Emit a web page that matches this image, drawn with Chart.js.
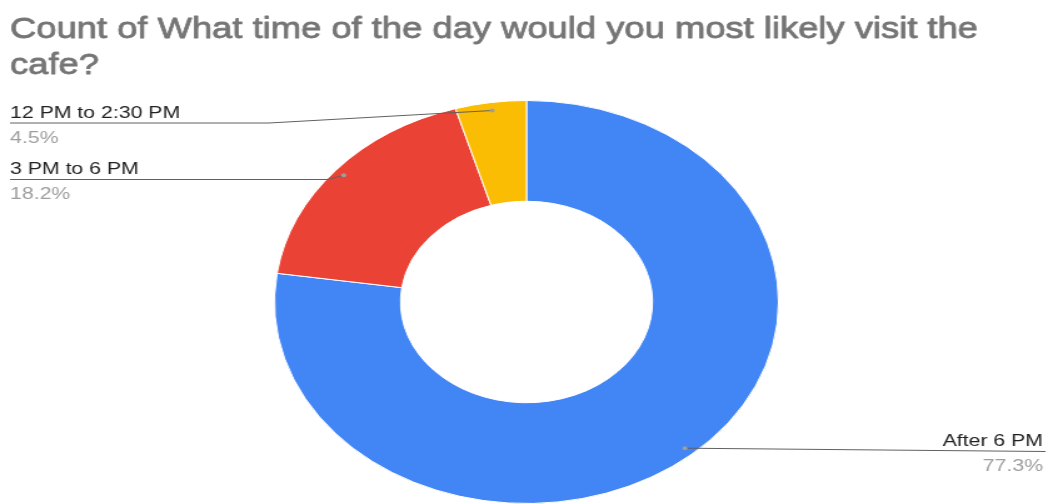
<!DOCTYPE html>
<html><head><meta charset="utf-8">
<script src="https://cdn.jsdelivr.net/npm/chart.js@4"></script>
<style>
html,body{margin:0;padding:0;background:#fff;overflow:hidden}
#wrap{width:838px;height:504px;transform:scaleX(1.2506);transform-origin:0 0;}
canvas{display:block}
</style></head><body>
<div id="wrap"><canvas id="c" width="838" height="504"></canvas></div>
<script>
const titleLines = ["Count of What time of the day would you most likely visit the", "cafe?"];
const categories = ["After 6 PM", "3 PM to 6 PM", "12 PM to 2:30 PM"];
const counts = [17, 4, 1];
const colors = ["#4285F4", "#EA4335", "#FBBC04"];

const total = counts.reduce((a, b) => a + b, 0);
const percentText = counts.map(v => (v / total * 100).toFixed(1) + "%");

// label placement (text layout only)
const labelLayout = [
  { align: "right", textX: 834, baseY: 446, lineY: 451.5, lineEndX: 836 },
  { align: "left", textX: 8, baseY: 173.5, lineY: 179.5, elbowX: 262 },
  { align: "left", textX: 8, baseY: 117.5, lineY: 123, elbowX: 215 }
];

const FONT = "'Liberation Sans', Arial, sans-serif";
const TITLE_WIDTH = 774;

const overlay = {
  id: "overlay",
  afterDraw(chart) {
    const ctx = chart.ctx;
    ctx.save();
    // title
    ctx.fillStyle = "#757575";
    ctx.strokeStyle = "#757575";
    ctx.lineWidth = 0.8;
    ctx.lineJoin = "round";
    ctx.font = "30px " + FONT;
    ctx.textBaseline = "alphabetic";
    ctx.textAlign = "left";
    const w = ctx.measureText(titleLines[0]).width;
    const sx = TITLE_WIDTH / w;
    ctx.save();
    ctx.translate(8, 0);
    ctx.scale(sx, 1);
    titleLines.forEach((t, k) => {
      ctx.fillText(t, 0, 38 + k * 36);
      ctx.strokeText(t, 0, 38 + k * 36);
    });
    ctx.restore();

    const meta = chart.getDatasetMeta(0);
    meta.data.forEach((arc, i) => {
      const p = arc.getProps(["x", "y", "startAngle", "endAngle", "outerRadius"], true);
      const mid = (p.startAngle + p.endAngle) / 2;
      const r = p.outerRadius * 0.96;
      const dx = p.x + Math.cos(mid) * r;
      const dy = p.y + Math.sin(mid) * r;
      const L = labelLayout[i];
      ctx.strokeStyle = "#616161";
      ctx.lineWidth = 1;
      ctx.beginPath();
      if (L.align === "right") {
        ctx.moveTo(dx, dy);
        ctx.lineTo(L.lineEndX, L.lineY);
      } else {
        ctx.moveTo(L.textX, L.lineY);
        ctx.lineTo(L.elbowX, L.lineY);
        ctx.lineTo(dx, dy);
      }
      ctx.stroke();
      ctx.fillStyle = "#9e9e9e";
      ctx.beginPath();
      ctx.arc(dx, dy, 2, 0, Math.PI * 2);
      ctx.fill();

      ctx.textAlign = L.align;
      ctx.font = "17px " + FONT;
      ctx.fillStyle = "#222222";
      ctx.fillText(categories[i], L.textX, L.baseY);
      ctx.fillStyle = "#9e9e9e";
      ctx.fillText(percentText[i], L.textX, L.baseY + 25);
    });
    ctx.restore();
  }
};

new Chart(document.getElementById("c"), {
  type: "doughnut",
  data: {
    labels: categories,
    datasets: [{
      data: counts,
      backgroundColor: colors,
      borderColor: "#ffffff",
      borderWidth: 1
    }]
  },
  options: {
    responsive: false,
    animation: false,
    devicePixelRatio: 1,
    cutout: "50%",
    layout: { padding: { top: 100, bottom: 0, left: 219, right: 215 } },
    plugins: { legend: { display: false }, tooltip: { enabled: false }, title: { display: false } }
  },
  plugins: [overlay]
});
</script>
</body></html>
